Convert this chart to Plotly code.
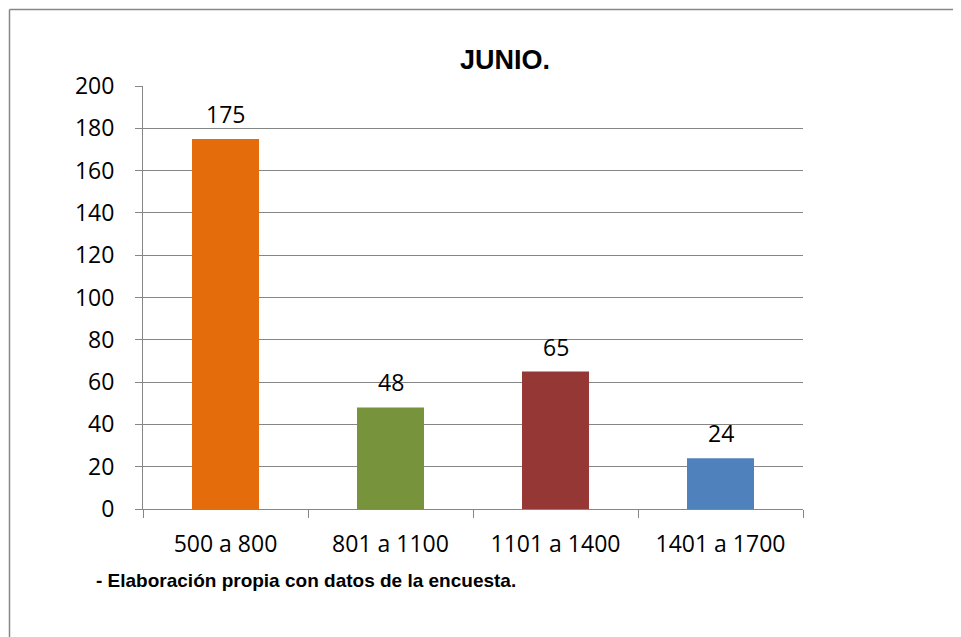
import plotly.graph_objects as go

categories = ["500 a 800", "801 a 1100", "1101 a 1400", "1401 a 1700"]
values = [175, 48, 65, 24]
colors = ["#E46C0A", "#77933C", "#953735", "#4F81BD"]
title_text = "JUNIO."
note_text = "- Elaboración propia con datos de la encuesta."

OFF = 8  # page body offset
W, H = 961 - OFF, 637 - OFF
L, R, T, B = 143 - OFF, 803 - OFF, 86 - OFF, 509 - OFF
pw, ph = R - L, B - T

def px(x):
    return (x - OFF - L) / pw

def py(y):
    return (B - (y - OFF)) / ph

font_lbl = "Open Sans, Noto Sans, sans-serif"
lbl_size = 23

fig = go.Figure(go.Bar(
    x=categories, y=values,
    marker=dict(color=colors, line=dict(width=0)),
    width=0.406,
))

for c, v in zip(categories, values):
    fig.add_annotation(x=c, y=v, text=str(v), showarrow=False, yshift=25,
                       xanchor="center", yanchor="middle",
                       font=dict(family=font_lbl, size=lbl_size, color="#000000"))

frame_line = dict(color="#868686", width=1.5)
fig.update_layout(
    width=W, height=H,
    margin=dict(l=L, r=W - R, t=T, b=H - B),
    paper_bgcolor="white", plot_bgcolor="white",
    showlegend=False,
    xaxis=dict(
        showgrid=False, showline=True, linecolor="#868686", linewidth=1,
        ticks="outside", tickson="boundaries", ticklen=8, tickcolor="#868686",
        tickfont=dict(family=font_lbl, size=lbl_size, color="#000000"),
        ticklabelstandoff=14,
    ),
    yaxis=dict(
        range=[0, 200], dtick=20, showgrid=True, gridcolor="#868686", gridwidth=1,
        showline=True, linecolor="#868686", linewidth=1,
        ticks="outside", ticklen=7, tickcolor="#868686",
        tickfont=dict(family=font_lbl, size=lbl_size, color="#000000"),
        ticklabelstandoff=16, zeroline=False,
    ),
    shapes=[
        dict(type="line", xref="paper", yref="paper",
             x0=px(OFF + 1.5), y0=py(OFF + 1.5), x1=px(961), y1=py(OFF + 1.5),
             line=frame_line, layer="below"),
        dict(type="line", xref="paper", yref="paper",
             x0=px(OFF + 1.5), y0=py(OFF + 1.5), x1=px(OFF + 1.5), y1=py(637),
             line=frame_line, layer="below"),
    ],
)

fig.add_annotation(text="<b>" + title_text + "</b>", xref="paper", yref="paper",
                   x=px(505), y=py(59.5), xanchor="center", yanchor="middle",
                   showarrow=False,
                   font=dict(family="Liberation Sans, Arial, sans-serif", size=27, color="#000000"))
fig.add_annotation(text="<b>" + note_text + "</b>", xref="paper", yref="paper",
                   x=px(94), y=py(580), xanchor="left", yanchor="middle",
                   showarrow=False,
                   font=dict(family="Liberation Sans, Arial, sans-serif", size=19, color="#000000"))

fig.write_html("out.html")
